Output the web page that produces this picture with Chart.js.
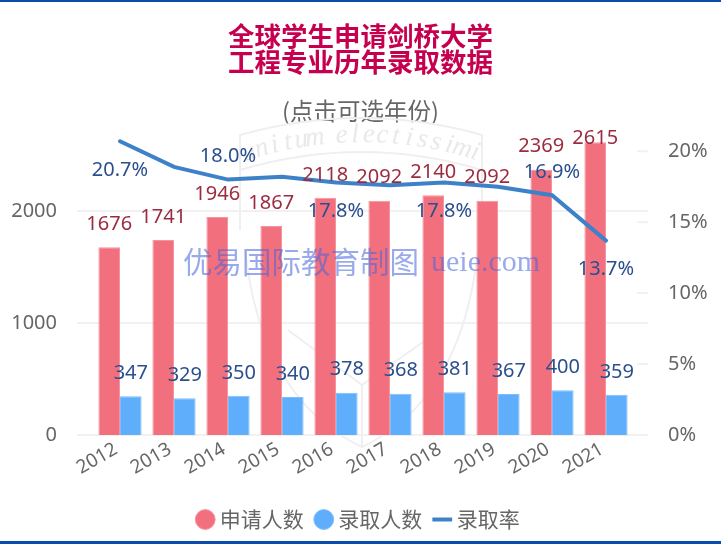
<!DOCTYPE html>
<html>
<head>
<meta charset="utf-8">
<title>全球学生申请剑桥大学工程专业历年录取数据</title>
<script src="https://cdn.jsdelivr.net/npm/chart.js@4/dist/chart.umd.js"></script>
<style>
  html, body { margin: 0; padding: 0; background: #fff; }
  canvas { display: block; }
</style>
</head>
<body>
<canvas id="chart" width="721" height="545"></canvas>
<script>
const years = ['2012', '2013', '2014', '2015', '2016', '2017', '2018', '2019', '2020', '2021'];
const applicants = [1676, 1741, 1946, 1867, 2118, 2092, 2140, 2092, 2369, 2615];
const admitted = [347, 329, 350, 340, 378, 368, 381, 367, 400, 359];
const admitRate = [20.7, 18.9, 18.0, 18.2, 17.8, 17.6, 17.8, 17.5, 16.9, 13.7];
const countTicks = [0, 1000, 2000];
const rateTicks = [0, 5, 10, 15, 20];
// 1 = label under the line, -1 = above it, 0 = no label
const rateLabelSide = [1, 0, -1, 0, 1, 0, 1, 0, -1, 1];

const FONT = '"Noto Sans", "Noto Sans CJK SC", sans-serif';
const CJK = '"Noto Sans CJK SC", sans-serif';
const GRID = '#f1f1f1';

// faint crest behind the bars
const crest = {
  id: 'crest',
  beforeDatasetsDraw(chart) {
    const c = chart.ctx;
    c.save();
    c.strokeStyle = '#efefef';
    c.fillStyle = '#e9e9e9';
    c.lineWidth = 2;
    c.beginPath();
    c.moveTo(240, 230);
    c.lineTo(240, 135);
    c.quadraticCurveTo(362, 101, 482, 135);
    c.lineTo(482, 230);
    c.stroke();
    c.beginPath();
    c.moveTo(245, 250);
    c.quadraticCurveTo(262, 400, 362, 447);
    c.quadraticCurveTo(462, 400, 478, 250);
    c.stroke();
    c.beginPath();
    c.moveTo(240, 170);
    c.quadraticCurveTo(362, 134, 482, 170);
    c.stroke();
    c.beginPath();
    c.moveTo(288, 330);
    c.lineTo(362, 385);
    c.lineTo(440, 330);
    c.moveTo(362, 385);
    c.lineTo(362, 447);
    c.stroke();
    c.font = 'italic 27px "Liberation Serif", serif';
    c.textAlign = 'center';
    c.textBaseline = 'middle';
    const motto = 'unitum electissimi';
    [...motto].forEach((ch, i) => {
      const a = (i - (motto.length - 1) / 2) * 0.036;
      c.save();
      c.translate(362 + Math.sin(a) * 376, 511 - Math.cos(a) * 376);
      c.rotate(a);
      c.fillText(ch, 0, 0);
      c.restore();
    });
    c.restore();
  }
};

// grid lines run past the plot on both sides, the right axis has short marks
const guides = {
  id: 'guides',
  beforeDatasetsDraw(chart) {
    const c = chart.ctx;
    const { y, y1 } = chart.scales;
    c.save();
    c.strokeStyle = GRID;
    c.lineWidth = 2;
    countTicks.forEach(t => {
      const py = y.getPixelForValue(t);
      c.beginPath();
      c.moveTo(77, py);
      c.lineTo(648, py);
      c.stroke();
    });
    rateTicks.forEach(t => {
      const py = y1.getPixelForValue(t);
      c.beginPath();
      c.moveTo(637, py);
      c.lineTo(648, py);
      c.stroke();
    });
    c.restore();
  }
};

const labels = {
  id: 'labels',
  afterDraw(chart) {
    const c = chart.ctx;
    const top = 138;
    c.save();
    c.font = '20px ' + FONT;
    c.textAlign = 'center';
    c.textBaseline = 'middle';
    c.fillStyle = '#9b2c40';
    chart.getDatasetMeta(0).data.forEach((el, i) => {
      c.fillText(applicants[i], el.x, Math.max(el.y - 23, top));
    });
    c.fillStyle = '#2b4f8e';
    chart.getDatasetMeta(1).data.forEach((el, i) => {
      c.fillText(admitted[i], el.x, el.y - 23);
    });
    chart.getDatasetMeta(2).data.forEach((el, i) => {
      const side = rateLabelSide[i];
      if (!side) return;
      c.fillText(admitRate[i].toFixed(1) + '%', el.x, el.y + (side > 0 ? 29 : -23));
    });
    // site watermark
    c.fillStyle = 'rgba(70, 100, 220, 0.55)';
    c.textAlign = 'left';
    c.font = '29.5px ' + CJK;
    c.fillText('优易国际教育制图', 183, 262);
    c.font = '30px "Liberation Serif", serif';
    c.fillText('ueie.com', 431, 263);
    // blue rules at the top and bottom of the picture
    c.fillStyle = '#0b4bab';
    c.fillRect(0, 0, 721, 2);
    c.fillRect(0, 541, 721, 3);
    c.restore();
  }
};

new Chart(document.getElementById('chart'), {
  data: {
    labels: years,
    datasets: [
      {
        type: 'bar',
        label: '申请人数',
        data: applicants,
        yAxisID: 'y',
        backgroundColor: '#f2707d',
        borderColor: '#f6949e',
        borderWidth: 1,
        pointStyle: 'circle',
        order: 2
      },
      {
        type: 'bar',
        label: '录取人数',
        data: admitted,
        yAxisID: 'y',
        backgroundColor: '#5eaefc',
        borderColor: '#7dbdfc',
        borderWidth: 1,
        pointStyle: 'circle',
        order: 2
      },
      {
        type: 'line',
        label: '录取率',
        data: admitRate,
        yAxisID: 'y1',
        borderColor: '#3d82c8',
        backgroundColor: '#3d82c8',
        borderWidth: 4,
        borderCapStyle: 'round',
        pointRadius: 0,
        tension: 0,
        pointStyle: 'line',
        order: 1
      }
    ]
  },
  options: {
    responsive: false,
    animation: false,
    categoryPercentage: 0.8,
    barPercentage: 1,
    layout: { padding: { top: 23, bottom: 5 } },
    scales: {
      x: {
        grid: { display: false },
        border: { display: false },
        ticks: {
          color: '#666',
          font: { size: 19, family: FONT },
          minRotation: 30,
          maxRotation: 30,
          padding: -5,
          labelOffset: -4
        },
        afterFit(s) { s.height = 58; }
      },
      y: {
        position: 'left',
        min: 0,
        max: 2800,
        grid: { display: false },
        border: { display: false },
        afterBuildTicks(s) { s.ticks = countTicks.map(value => ({ value })); },
        ticks: {
          color: '#666',
          font: { size: 20, family: FONT },
          padding: 28,
          callback: v => String(v)
        },
        afterFit(s) { s.width = 93; }
      },
      y1: {
        position: 'right',
        min: 0,
        max: 22.1,
        grid: { display: false },
        border: { display: false },
        afterBuildTicks(s) { s.ticks = rateTicks.map(value => ({ value })); },
        ticks: {
          color: '#666',
          font: { size: 20, family: FONT },
          padding: 27,
          callback: v => v + '%'
        },
        afterFit(s) { s.width = 88; }
      }
    },
    plugins: {
      title: {
        display: true,
        text: ['全球学生申请剑桥大学', '工程专业历年录取数据'],
        color: '#c6004e',
        font: { size: 26.5, weight: 'bold', family: CJK, lineHeight: 0.98 },
        padding: { top: 0, bottom: 24 }
      },
      subtitle: {
        display: true,
        text: '(点击可选年份)',
        color: '#666',
        font: { size: 23.5, family: CJK, lineHeight: 1 },
        padding: { top: 0, bottom: -1 }
      },
      legend: {
        position: 'bottom',
        labels: {
          usePointStyle: true,
          boxWidth: 8,
          boxHeight: 14,
          padding: 16,
          color: '#666',
          font: { size: 21, family: CJK },
          sort: (a, b) => a.datasetIndex - b.datasetIndex
        }
      },
      tooltip: { enabled: false }
    }
  },
  plugins: [crest, guides, labels]
});
</script>
</body>
</html>
